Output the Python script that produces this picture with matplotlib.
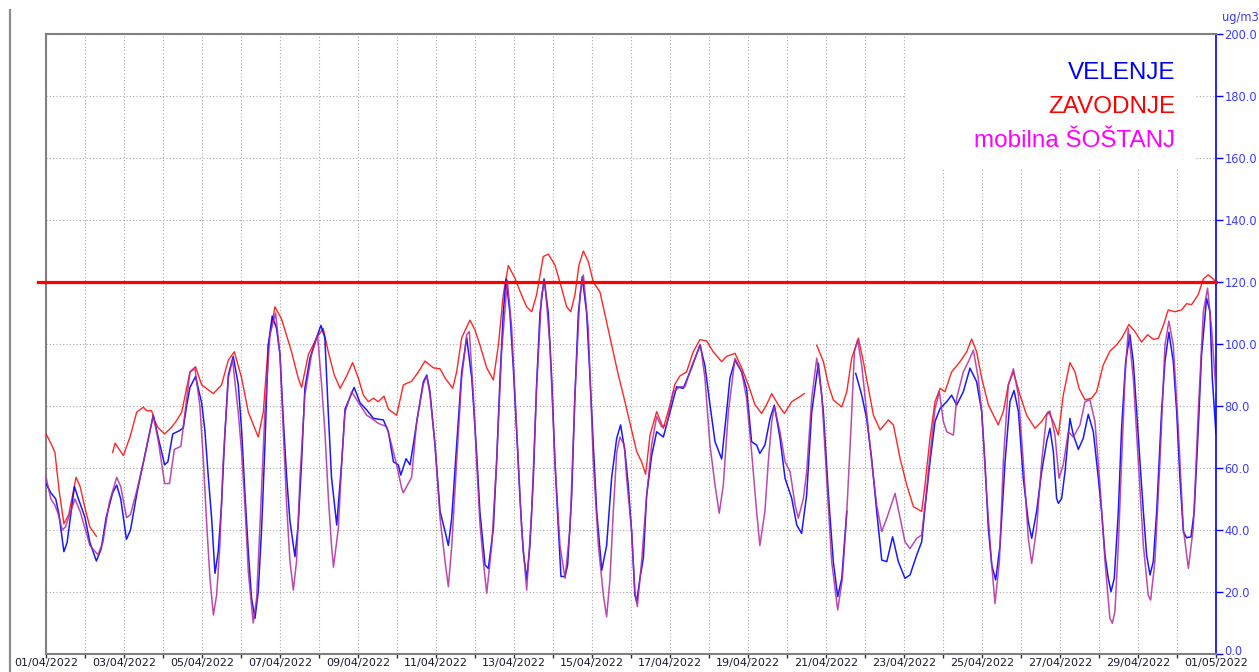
import numpy as np
import matplotlib
matplotlib.use('Agg')
import matplotlib.pyplot as plt
from matplotlib.lines import Line2D
from matplotlib.patches import Rectangle
from matplotlib.ticker import FormatStrFormatter
from matplotlib.transforms import ScaledTranslation

# ---- data: (hour since 01/04/2022 00:00, ug/m3); None = missing ----
velenje = [
(0,55),(3,52),(6,50),(8,45),(11,33),(13,36),(17.5,54),(20,50),(24,44),(27,36),(31,30),(34,34),(37,44),(41,52),(43.5,54.5),(46,50),(49.5,37),(52,40),(56,52),(60,62),(64,72),(66,77),(69,70),(73,61),(75,62),(78,71),(82,72),(84.5,73),(86.5,80),(88.6,86),
(92,89.5),(95.8,81),(97.8,72),(99.9,57),(101.9,44),(104,26),(106,33),(108,48),(110,70),(112.2,90),(115.2,96),(118.3,87),(120.4,72),(122.4,52),(124.5,33),(126.5,18),(128.6,11.5),(130.6,20),(132.7,40.5),(134.7,67),(136.8,99.7),(139.2,109),(141.9,105),(144,96.5),(146,76),(148.1,57),(150.1,43),(153.2,31.4),(155.2,41.6),(157.3,62),(159.3,85.7),(162.4,95.4),(166.5,102),(169.2,106),(171.6,102),(173.7,78),(175.7,57),
(178.9,41.6),(182,62),(184,79),(189.6,86),(193.3,81),(197.4,78.7),(201.5,76),(207.6,75.5),(210.7,71.7),(213.8,62),(216.8,61),(218.3,57.7),(221.6,63),(224,61),(226,67.4),(229.1,78),(232.2,87.8),(234.3,90),(236.3,84.6),(239.4,67.4),(242.5,46),(245.6,39.5),(247.6,35),(249.7,44),(252.7,67.4),(255.8,91),(258.9,102),(262,89),(265,65),
(267,46),(270.2,28.7),(272.2,27.6),(275.3,40.5),(277.3,62),(279.4,89),(281.4,110),(283.1,121),(285.5,110),(287.6,92),(289.6,72),(291.7,50),(293.7,33),(295.8,24),(297.8,35),(299.9,56.7),(301.9,86.8),(304,110),(306.5,121),(309.1,110),(311.2,89),(313.2,62),(315.3,40.5),(316.9,25),(319.4,25),(321,28.7),(323.5,51),(325.5,83.5),(327.6,110),(330,121.7),(332.7,110),(334.8,89),(336.8,67.4),(338.9,46),(342,27),(345,35),(348.1,57),(351.2,69.6),(353.6,73.9),
(356.3,65.3),(358.3,54.5),(360.4,39.5),(362.4,19),(363.5,16.9),(365.5,24.4),(367.6,30.9),(369.6,51),(372.7,64),(375.8,71.7),(379.9,70),(384,78),(388.1,86.2),(392.2,85.7),(397.3,92.3),(402.4,99.7),(405.5,93),(408.6,80.4),(411.7,68.5),(415.8,62.9),(418.8,78),(420.9,89),(424,94.8),(428.1,91),(431.1,85.7),(434.2,68.5),(437.3,67.4),(439.3,64.7),(442.4,67.4),
(445.6,76),(448.2,80.3),(451.7,69.6),(454.8,56.7),(458.9,50.2),(462,41.6),(465,38.9),(468.1,51.3),(471.2,78),(475.3,93.8),(478.4,78),(481.5,51.3),(484.5,29.8),(487.2,18.5),(489.7,24.4),(492.8,46),(495,None),(498.3,90.5),(502,83.5),(505,76),(508.1,63),(511.2,46),(514.3,30.3),(517.4,29.8),(521,37.8),(524.5,29.8),(528.6,24.4),(531.7,25.5),
(535.8,31.9),(538.9,36.2),(540.9,47),(544,62),(547.1,75),(550.2,79.2),(554.3,81.4),(557.3,83.5),(560.4,80.3),(564.5,84.6),(568.6,92.2),(572.7,87.8),(575.8,78.2),(577.8,62),(579.9,40.5),(582,28.7),(584.4,23.9),(587.1,35),(590.2,62),(593.2,81.4),(595.7,85),(598.4,78.2),(601.4,56.7),(604.5,42.7),(606.6,37.3),(609.6,46),(612.7,58.8),(615.8,68.5),(617.8,72.8),(619.9,65.3),(621.9,50.2),
(623,48.6),(625,50.2),(627.1,58.8),(630.1,76),(632.2,70.6),(635.3,66),(638.3,69.6),(641.4,77.3),(644.5,71.7),(647.6,56.7),(649.6,46),(651.7,31.9),(653.7,24.4),(655.4,20.1),(657.4,24.4),(659.9,46),(661.9,72.8),(664.4,94.3),(667,103),(669.1,94.3),(671.2,78.2),(673.2,62),(675.3,46),(677.3,31.9),(679.4,25.5),(681.4,29.8),(683.5,46),(686.5,78.2),(688.6,94.3),(691,103.8),(693.7,94.3),(695.8,78.2),(697.8,56.7),(699.9,39.5),(701.9,37.5),(704.6,37.8),(706.6,46),(709.1,72.8),(711.1,96.5),(714.2,114.7),(716.3,110.4),(717.7,89),(720,71)]

zavodnje = [
(0,71),(3,68),(5.5,65),(8,53),(11,42),(14,45),(18.5,57),(21,54),(24,47),(27,41),(31,38),(36,None),(41,65),(42.5,68),(47.6,64),(51.7,70),(55.8,78),(59.9,79.6),(62,78.5),(65,78.5),(67,75),(69,73),(73,71),(77,73),(80,75),(83.5,78),(88.6,91),
(92,92.7),(95.8,86.8),(103,84),(108,86.8),(112.2,94.8),(115.9,97.5),(120.4,89),(124.5,78),(130.6,70),(133.7,78),(136.8,99.7),(140.9,112),(145,108),(151.1,97.5),(155.2,89),(157.3,86),(161.4,96.5),(166.5,102),(170.6,105),(173.7,97.5),(177.4,90),
(181,85.7),(185,89.7),(188.7,94),(192.2,89),(195.3,83.5),(198.4,81.4),(201.5,82.5),(204.5,81.4),(208,83.2),(210.7,79),(215.8,77),(219.9,86.8),(225,88),(229.2,91),(233.2,94.5),(238.4,92.3),(242.5,92),(245.6,89),(250.3,85.7),(252.7,91),(255.8,102),(260.9,107.7),(264,104.5),
(267,99.7),(271.2,92.3),(275.3,88.4),(278.4,99.7),(281.4,115.9),(284.5,125.3),(288.6,121.2),(291.7,117),(295.8,112),(298.9,110.4),(301.9,115.9),(306,128.2),(309.1,129),(313.2,125.5),(317.3,118),(320.4,112),(322.9,110.4),(325.5,115.9),(328,125.5),(330.7,130),(333.7,126.6),(336.8,120),(340.9,116.8),(345,107),(348.1,99.7),(352.2,90),
(355.3,83.5),(359.4,74.4),(363.5,65.3),(366.5,62),(369,58),(371.7,70.6),(375.8,78.2),(379.9,72.8),(384,80.4),(387,87),(390.1,89.7),(394.2,91),(398.3,97.5),(402.4,101.4),(406.5,101),(410.6,97.5),(415.8,94.3),(418.8,96),(424,97),(428.1,92.3),(432.2,86.8),(436.3,80.4),(440.4,77.6),(443.4,80.4),
(446.6,84),(450.7,80.3),(454.4,77.6),(458.9,81.4),(463,82.7),(466.7,84),(470,None),(474.3,99.6),(478.4,94.3),(481.5,86.8),(484.5,81.9),(489.7,79.7),(492.8,84.6),(495.8,95.4),(499.9,101.9),(503,94.3),(506.1,85.7),(509.2,77),(513.3,72.3),(518.4,75.5),(521.5,73.9),(525.6,63),(529.7,54.5),(533.8,47.5),
(538.9,46),(540.9,54.5),(544,69.6),(547.1,81.4),(550.2,85.7),(553.2,84.6),(557.3,91),(562.5,94.3),(566.6,97.5),(569.6,101.6),(572.7,97.5),(575.8,89),(579.9,80.4),(586,73.9),(589.1,78.2),(592.2,86.8),(595.3,91),(599.4,83.5),(603.5,77),(608.6,72.8),(612.7,75),(616.8,78.2),(619.9,75),
(623,70.6),(626,83.5),(630.1,94),(633.2,91),(635.7,85.7),(639.4,82),(643.5,82.5),(646.5,84.6),(650.6,93.2),(654.7,97.7),(658.8,99.7),(661.9,101.8),(666.4,106.3),(670.1,104),(674.2,100.6),(677.9,103),(681.4,101.5),(684.5,101.8),(687.6,106),(690.6,111),(694.7,110.4),(698.8,111),(701.9,113),(705,112.7),(709.1,116),(712.2,121),(715.2,122.3),(718.3,121),(720,119.6)]

sostanj = [
(0,57),(3,50),(5.5,48),(7.6,45),(10,40),(12,41),(17.8,50),(21,46),(27,35),(32,32),(35,36),(39,49),(43.5,57),(46,54),(49.6,44),(52,45),(56,53),(60,62),(66,77),(69,69),(73,55),(76,55),(79,66),(83,67),(86,80),
(88.6,91),(91.7,92),(94.7,80),(96.8,63),(98.8,42.7),(100.9,24.4),(103,12.6),(105,19),(107,35),(109,62),(112.2,89),(114.8,95),(118.3,78),(120.4,65),(122.4,48),(124.5,26.5),(127.5,10),(129.6,18),(131.6,40.5),(134.7,78),(137.8,103),(141.3,110),(144,96.5),(146,72),(148.1,48),(150.1,30),(152.2,20.6),(154.2,30),(156.3,57),(159.3,83.5),(163.4,96.5),(167.1,103),(169.6,86.8),(171.6,72),(173.7,51),(175.7,35),
(176.9,28),(179.9,40.5),(182,62),(184,78),(188.1,84.6),(193.3,80.3),(197.4,77),(200.4,76),(204.5,74.4),(209.7,73.3),(212.7,67.4),(215.8,61),(218.9,53.4),(219.9,52),(225,57),(228.1,75),(232.2,87),(234.3,89.7),(236.3,83.5),(239.4,67.4),(242.5,43.8),(245.6,29.8),(247.6,21.7),(249.7,35),(252.7,62),(255.8,89),(258.9,103),(260.5,104),(263,83.5),(265,62),(267.1,41.6),
(269.1,30),(271.2,19.6),(274.3,35),(277.3,62),(280.4,97.5),(283.9,120.6),(286.6,105),(289.6,73),(292.7,40.5),(295.8,20.6),(298.9,46),(301.9,85.7),(305,116),(307,120),(310.1,99.7),(313.2,62),(316.3,35),(319.4,24.4),(322.5,40.5),(325.5,83.5),(328.6,116),(330.7,122.3),(333.7,105),(336.8,62),(339.9,35),(343,19),(345,12),(347.1,24.4),(349.1,46),(351.2,65),(353.2,70),(355.9,67.4),
(357.3,56.7),(360.4,39.5),(362.4,20),(363.9,15.3),(366.5,29.8),(369.6,51),(372.7,67.4),(375.8,76.6),(378.8,73.3),(381.9,73.9),(386,84.6),(390.1,86.2),(393.2,86.2),(397.3,92.8),(402.8,99.7),(405.5,89),(408.6,67.4),(411.7,54.5),(414.3,45.4),(416.8,54.5),(419.9,78),(424,95.4),(428.1,91),(431.1,82.5),(434.2,65.3),(437.3,46),(439.3,35),(442.4,46),
(444.5,62),(446.6,75),(448.2,79.8),(451.7,71.7),(454.8,62),(457.9,58.8),(461,48),(463,43.8),(466.1,50.2),(468.1,58.8),(471.2,82.5),(474.3,95.4),(477.4,83.5),(480.4,56.7),(483.5,29.8),(487.2,14.2),(490.1,24.4),(492.8,46),(495.4,73),(497.5,97.5),(499.5,101.3),(502,93),(505,78),(508.1,62),(511.2,48),(514.3,39.5),(517.4,43.8),(522.5,51.8),(525.6,43.8),(528.6,36.2),(531.7,34),
(535.8,37.3),(538.9,38.4),(540.9,48),(544,64),(547.1,79.2),(549.8,84.6),(552.2,75),(554.3,71.7),(558.4,70.6),(560.4,82.5),(564.5,91),(567.6,94.3),(570.7,98),(573.7,89),(575.8,78.2),(578.9,51.3),(582,28.7),(584,16.3),(586.7,29.8),(589.1,62),(592.2,86.8),(595.3,92),(598.4,83.5),(601.4,62),(604.5,37.3),(606.6,29.2),(609.6,40.5),(612.7,62),(615.8,77),(617.8,78.4),(620.9,70.6),
(623.4,56.7),(626,61),(629.1,71.7),(632.2,70),(636.3,73.9),(639.4,81.4),(642.4,82),(645.5,75),(648.6,54.5),(651.7,29.8),(654.7,11.5),(656.2,9.9),(657.8,13.7),(659.9,35),(661.9,62),(664,89),(666,105),(669.1,89),(672.2,62),(675.3,35),(678.3,19),(679.8,17.4),(682.4,29.8),(685.5,62),(688.6,99.7),(691,107.4),(693.7,99.7),(696.8,72.8),(699.9,40.5),(703,27.6),(706,40.5),(709.1,78.2),(712.2,110.4),(714.8,118),(717.3,105),(720,84.6)]

limit_value = 120
series_names = ['VELENJE', 'ZAVODNJE', 'mobilna ŠOŠTANJ']
date_labels = ['01/04/2022', '03/04/2022', '05/04/2022', '07/04/2022', '09/04/2022',
               '11/04/2022', '13/04/2022', '15/04/2022', '17/04/2022', '19/04/2022',
               '21/04/2022', '23/04/2022', '25/04/2022', '27/04/2022', '29/04/2022',
               '01/05/2022']
y_ticks = [0, 20, 40, 60, 80, 100, 120, 140, 160, 180, 200]
unit_label = 'ug/m3'


def split(pairs):
    h = np.array([p[0] for p in pairs], float)
    v = np.array([np.nan if p[1] is None else p[1] for p in pairs], float)
    return h, v


W, H = 1259, 672
fig = plt.figure(figsize=(W / 100, H / 100), dpi=100)
L, R, T, B = 46, 1216, 34, 654
ax = fig.add_axes([L / W, (H - B) / H, (R - L) / W, (B - T) / H])
ax.set_xlim(0, 720)
ax.set_ylim(0, 200)
ax.set_axisbelow(True)

BLUE = '#0000ff'
RED = '#ff0000'
MAG = '#b02aa0'

hz, vz = split(zavodnje)
hv, vv = split(velenje)
hs, vs = split(sostanj)
ax.plot(hz, vz, color=RED, lw=1.0, alpha=0.85, zorder=3)
ax.plot(hv, vv, color=BLUE, lw=1.1, alpha=0.9, zorder=3)
ax.plot(hs, vs, color=MAG, lw=1.1, alpha=0.85, zorder=3)

# threshold line
ax.axhline(limit_value, xmin=-8 / (R - L), xmax=1, color=RED, lw=2.3,
           clip_on=False, zorder=5)

# ticks / grid
ax.set_xticks(np.arange(0, 721, 48))
ax.set_xticks(np.arange(0, 721, 24), minor=True)
ax.set_xticklabels(date_labels)
ax.set_yticks(y_ticks)
ax.yaxis.set_major_formatter(FormatStrFormatter('%.1f'))
ax.yaxis.tick_right()
ax.grid(which='both', axis='x', color='#a8a8a8', linestyle=(0, (1, 2)), lw=0.8)
ax.grid(which='major', axis='y', color='#a8a8a8', linestyle=(0, (1, 2)), lw=0.8)
ax.tick_params(axis='x', which='both', direction='out', length=3, width=1,
               color='#303030', labelsize=8, labelcolor='#1a1a30', pad=0)
ax.tick_params(axis='y', which='major', direction='out', length=5, width=1,
               color=BLUE, labelsize=8.3, labelcolor='#3c3cff', pad=1,
               right=True, left=False)

# lift the "0.0" label a little so it clears the last date label
zero_tick = ax.yaxis.get_major_ticks()[0]
zero_tick.label2.set_transform(zero_tick.label2.get_transform()
                               + ScaledTranslation(0, 4 / 100, fig.dpi_scale_trans))

for s in ['left', 'top', 'bottom']:
    ax.spines[s].set_color('#808080')
    ax.spines[s].set_linewidth(1.5)
ax.spines['right'].set_color(BLUE)
ax.spines['right'].set_linewidth(1.2)

# white box behind the legend texts
x0 = (905 - L) / (R - L) * 720
x1 = (1196 - L) / (R - L) * 720
y0 = (B - 168) / (B - T) * 200
ax.add_patch(Rectangle((x0, y0), x1 - x0, 200 - y0, facecolor='white',
                       edgecolor='none', zorder=1))

colors = [BLUE, RED, '#ff00ff']
ys = [73, 107, 141]
for name, c, yy in zip(series_names, colors, ys):
    fig.text(1175 / W, 1 - yy / H, name, color=c, fontsize=17.5,
             family='Liberation Sans', ha='right', va='center')

fig.text(1222 / W, 1 - 18 / H, unit_label, color='#3c3cff', fontsize=8.3,
         ha='left', va='center')

fig.add_artist(Line2D([10.5 / W, 10.5 / W], [0, 1 - 10 / H],
                      transform=fig.transFigure, color='#8c8c8c', lw=1.6))

fig.savefig('out.png', dpi=100, facecolor='white')
